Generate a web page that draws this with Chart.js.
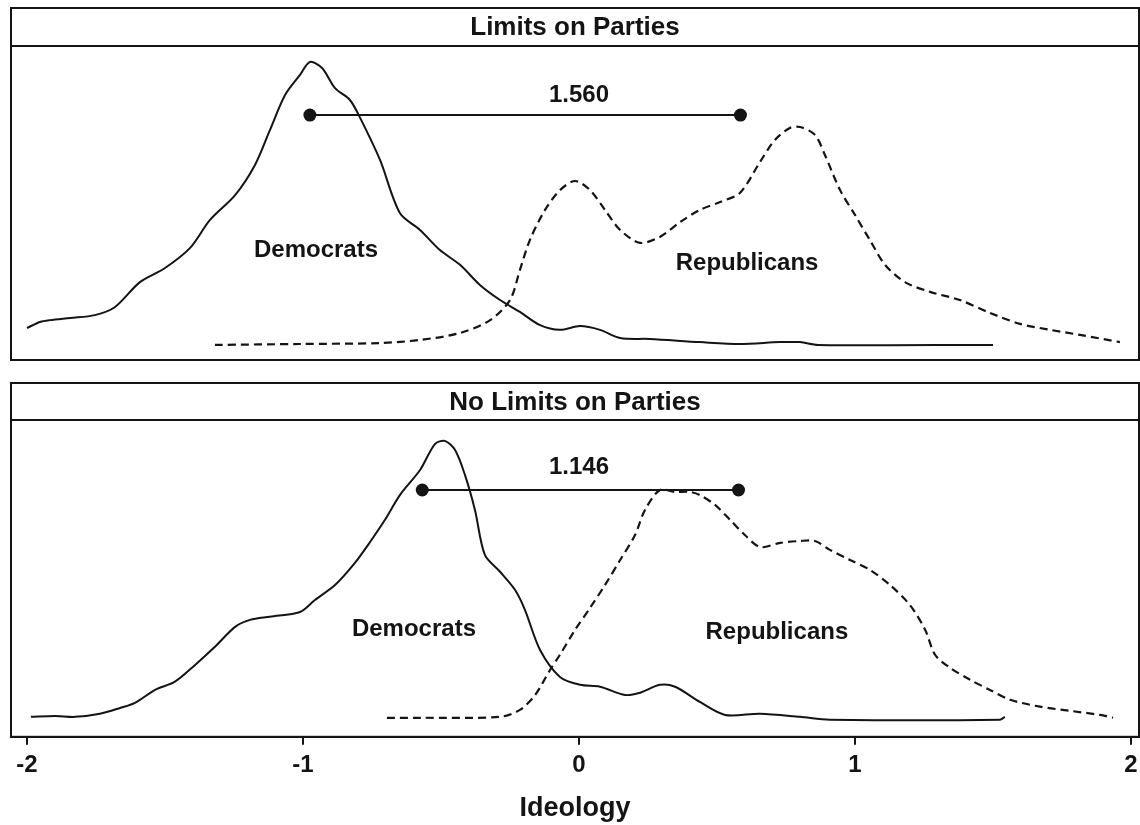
<!DOCTYPE html>
<html>
<head>
<meta charset="utf-8">
<title>Ideology by party</title>
<script src="https://cdn.jsdelivr.net/npm/chart.js@4.4.1/dist/chart.umd.min.js"></script>
<style>
  html, body { margin: 0; padding: 0; background: #fff; overflow: hidden; }
  #wrap { position: relative; width: 1140px; height: 825px; }
  .panel { position: absolute; left: 0; width: 1140px; }
  canvas { display: block; }
</style>
</head>
<body>
<div id="wrap">
  <div class="panel" style="top:0;height:362px"><canvas id="top-chart" width="1140" height="362"></canvas></div>
  <div class="panel" style="top:370px;height:455px"><canvas id="bottom-chart" width="1140" height="455"></canvas></div>
</div>
<script>
"use strict";

// Data (x = ideology, y = relative density)

let panelTitles = ["Limits on Parties", "No Limits on Parties"];
let axisTitle = "Ideology";
let xTicks = [-2, -1, 0, 1, 2];

let demLimitsX = [-2.0, -1.953, -1.917, -1.844, -1.754, -1.681, -1.591, -1.5, -1.409, -1.337, -1.246, -1.174, -1.12, -1.065, -1.011, -0.975, -0.931, -0.884, -0.83, -0.793, -0.721, -0.649, -0.576, -0.504, -0.431, -0.359, -0.286, -0.214, -0.141, -0.069, 0.004, 0.076, 0.149, 0.257, 0.438, 0.583, 0.728, 0.801, 0.866, 1.5];
let demLimitsY = [0.102, 0.121, 0.127, 0.134, 0.143, 0.169, 0.248, 0.293, 0.357, 0.446, 0.525, 0.621, 0.732, 0.844, 0.908, 0.949, 0.93, 0.866, 0.828, 0.771, 0.637, 0.468, 0.414, 0.35, 0.303, 0.239, 0.191, 0.153, 0.111, 0.096, 0.108, 0.096, 0.07, 0.067, 0.057, 0.051, 0.057, 0.057, 0.048, 0.048];

let repLimitsX = [-1.319, -1.011, -0.721, -0.576, -0.431, -0.322, -0.25, -0.214, -0.178, -0.123, -0.069, -0.014, 0.04, 0.094, 0.149, 0.221, 0.293, 0.366, 0.438, 0.511, 0.583, 0.656, 0.71, 0.764, 0.801, 0.855, 0.891, 0.946, 1.0, 1.054, 1.109, 1.181, 1.272, 1.38, 1.489, 1.598, 1.707, 1.815, 1.96];
let repLimitsY = [0.048, 0.051, 0.054, 0.064, 0.086, 0.127, 0.191, 0.287, 0.382, 0.478, 0.541, 0.57, 0.541, 0.478, 0.414, 0.373, 0.392, 0.439, 0.478, 0.503, 0.532, 0.631, 0.701, 0.739, 0.742, 0.717, 0.653, 0.541, 0.462, 0.382, 0.303, 0.248, 0.217, 0.191, 0.15, 0.115, 0.096, 0.08, 0.057];

let demNoLimitsX = [-1.986, -1.899, -1.826, -1.736, -1.663, -1.609, -1.536, -1.464, -1.391, -1.319, -1.246, -1.192, -1.12, -1.011, -0.957, -0.884, -0.812, -0.757, -0.703, -0.649, -0.576, -0.522, -0.486, -0.449, -0.413, -0.377, -0.341, -0.286, -0.232, -0.196, -0.141, -0.069, 0.004, 0.076, 0.167, 0.221, 0.293, 0.348, 0.438, 0.529, 0.656, 0.801, 0.909, 1.525, 1.543];
let demNoLimitsY = [0.063, 0.066, 0.063, 0.073, 0.091, 0.107, 0.148, 0.174, 0.227, 0.284, 0.347, 0.369, 0.379, 0.394, 0.432, 0.479, 0.549, 0.615, 0.685, 0.763, 0.842, 0.924, 0.934, 0.905, 0.826, 0.716, 0.574, 0.521, 0.464, 0.401, 0.274, 0.189, 0.164, 0.158, 0.132, 0.139, 0.164, 0.158, 0.11, 0.069, 0.073, 0.063, 0.054, 0.054, 0.063];

let repNoLimitsX = [-0.696, -0.576, -0.286, -0.214, -0.159, -0.105, -0.069, -0.014, 0.04, 0.094, 0.149, 0.203, 0.239, 0.293, 0.348, 0.402, 0.438, 0.493, 0.547, 0.601, 0.656, 0.728, 0.801, 0.855, 0.909, 0.982, 1.054, 1.127, 1.199, 1.254, 1.29, 1.344, 1.417, 1.489, 1.562, 1.67, 1.779, 1.888, 1.935];
let repNoLimitsY = [0.06, 0.06, 0.063, 0.085, 0.132, 0.211, 0.259, 0.338, 0.407, 0.479, 0.558, 0.637, 0.716, 0.779, 0.773, 0.773, 0.763, 0.732, 0.685, 0.637, 0.599, 0.612, 0.618, 0.618, 0.59, 0.558, 0.527, 0.479, 0.416, 0.338, 0.259, 0.218, 0.18, 0.148, 0.117, 0.095, 0.082, 0.069, 0.06];

// party means and the gap between them
let meansLimits = [-0.975, 0.585];
let meansNoLimits = [-0.568, 0.578];
let meanLevel = [0.78, 0.779];
let gapLabels = ["1.560", "1.146"];

let FONT = "'Liberation Sans', Arial, Helvetica, sans-serif";
let INK = "#141414";

Chart.defaults.font.family = FONT;
Chart.defaults.color = INK;

function toPoints(xs, ys) {
  return xs.map(function (x, i) {
    return { x: x, y: ys[i] };
  });
}

// Frame, header strip, curve labels

const panelFrame = {
  id: "panelFrame",
  afterDraw(chart, args, opts) {
    let ctx = chart.ctx;
    let a = chart.chartArea;
    let xs = chart.scales.x;
    let ys = chart.scales.y;
    ctx.save();
    ctx.strokeStyle = INK;
    ctx.lineWidth = 2;
    ctx.strokeRect(a.left, opts.headerTop, a.right - a.left, a.bottom - opts.headerTop);
    ctx.beginPath();
    ctx.moveTo(a.left, a.top);
    ctx.lineTo(a.right, a.top);
    ctx.stroke();

    ctx.fillStyle = INK;
    ctx.textAlign = "center";
    ctx.textBaseline = "middle";
    ctx.font = "bold 26px " + FONT;
    ctx.fillText(opts.title, (a.left + a.right) / 2, (opts.headerTop + a.top) / 2 + 1);

    ctx.font = "bold 24px " + FONT;
    opts.labels.forEach(function (l) {
      ctx.fillText(l.text, xs.getPixelForValue(l.x), ys.getPixelForValue(l.y));
    });
    ctx.restore();
  },
};

function makeDatasets(demX, demY, repX, repY, means, level) {
  return [
    {
      label: "Democrats",
      data: toPoints(demX, demY),
      borderColor: INK,
      borderWidth: 2,
      pointRadius: 0,
      tension: 0.3,
    },
    {
      label: "Republicans",
      data: toPoints(repX, repY),
      borderColor: INK,
      borderWidth: 2.2,
      borderDash: [8, 5],
      pointRadius: 0,
      tension: 0.3,
    },
    {
      label: "Means",
      data: toPoints(means, [level, level]),
      borderColor: INK,
      borderWidth: 2,
      pointRadius: 6.5,
      pointBackgroundColor: INK,
      pointBorderWidth: 0,
    },
  ];
}

function makeChart(canvasId, i, datasets, showAxis, headerTop, labels) {
  let ctx = document.getElementById(canvasId).getContext("2d");
  return new Chart(ctx, {
    type: "line",
    data: { datasets: datasets },
    plugins: [panelFrame],
    options: {
      responsive: false,
      animation: false,
      devicePixelRatio: 1,
      layout: {
        autoPadding: false,
        padding: { left: 11, right: 1, top: showAxis ? 50 : 46, bottom: showAxis ? 0 : 2 },
      },
      plugins: {
        legend: { display: false },
        tooltip: { enabled: false },
        panelFrame: { title: panelTitles[i], headerTop: headerTop, labels: labels },
      },
      scales: {
        x: {
          type: "linear",
          display: showAxis,
          min: -2.058,
          max: 2.029,
          afterBuildTicks: function (s) {
            s.ticks = xTicks.map(function (v) { return { value: v }; });
          },
          afterFit: function (s) {
            s.paddingLeft = 0;
            s.paddingRight = 0;
          },
          border: { display: true, color: INK, width: 2 },
          grid: { display: true, drawOnChartArea: false, tickLength: 8, color: INK, lineWidth: 2 },
          ticks: { font: { size: 24, weight: "bold" }, color: INK, padding: 6, maxRotation: 0 },
          title: {
            display: true,
            text: axisTitle,
            font: { size: 27, weight: "bold" },
            color: INK,
            padding: { top: 7, bottom: 0 },
          },
        },
        y: { display: false, min: 0, max: 1 },
      },
    },
  });
}

makeChart(
  "top-chart",
  0,
  makeDatasets(demLimitsX, demLimitsY, repLimitsX, repLimitsY, meansLimits, meanLevel[0]),
  false,
  8,
  [
    { text: "Democrats", x: -0.953, y: 0.35 },
    { text: "Republicans", x: 0.609, y: 0.309 },
    { text: gapLabels[0], x: 0.0, y: 0.844 },
  ]
);

makeChart(
  "bottom-chart",
  1,
  makeDatasets(demNoLimitsX, demNoLimitsY, repNoLimitsX, repNoLimitsY, meansNoLimits, meanLevel[1]),
  true,
  13,
  [
    { text: "Democrats", x: -0.598, y: 0.338 },
    { text: "Republicans", x: 0.717, y: 0.331 },
    { text: gapLabels[1], x: 0.0, y: 0.849 },
  ]
);
</script>
</body>
</html>
